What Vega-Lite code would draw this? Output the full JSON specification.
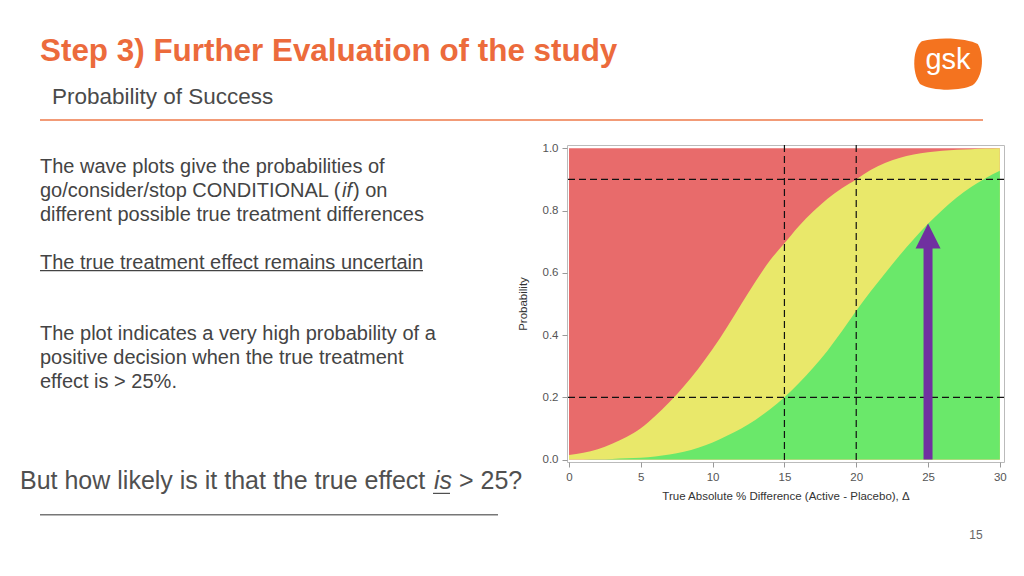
{
  "$schema": "https://vega.github.io/schema/vega-lite/v6.json",
  "background": "white",
  "padding": {"left": 20, "top": 20, "right": 20, "bottom": 20},
  "config": {"font": "Liberation Sans", "view": {"stroke": null}},
  "datasets": {
    "poc": [
      {"delta": 0, "go": 0.000, "goConsider": 0.015},
      {"delta": 1, "go": 0.0005, "goConsider": 0.022},
      {"delta": 2, "go": 0.001, "goConsider": 0.033},
      {"delta": 3, "go": 0.002, "goConsider": 0.051},
      {"delta": 4, "go": 0.004, "goConsider": 0.073},
      {"delta": 5, "go": 0.006, "goConsider": 0.101},
      {"delta": 6, "go": 0.010, "goConsider": 0.140},
      {"delta": 7, "go": 0.016, "goConsider": 0.185},
      {"delta": 8, "go": 0.025, "goConsider": 0.236},
      {"delta": 9, "go": 0.038, "goConsider": 0.292},
      {"delta": 10, "go": 0.055, "goConsider": 0.355},
      {"delta": 11, "go": 0.077, "goConsider": 0.425},
      {"delta": 12, "go": 0.100, "goConsider": 0.500},
      {"delta": 13, "go": 0.128, "goConsider": 0.573},
      {"delta": 14, "go": 0.162, "goConsider": 0.640},
      {"delta": 15, "go": 0.200, "goConsider": 0.695},
      {"delta": 16, "go": 0.245, "goConsider": 0.750},
      {"delta": 17, "go": 0.295, "goConsider": 0.797},
      {"delta": 18, "go": 0.350, "goConsider": 0.838},
      {"delta": 19, "go": 0.412, "goConsider": 0.872},
      {"delta": 20, "go": 0.478, "goConsider": 0.900},
      {"delta": 21, "go": 0.540, "goConsider": 0.930},
      {"delta": 22, "go": 0.598, "goConsider": 0.953},
      {"delta": 23, "go": 0.655, "goConsider": 0.969},
      {"delta": 24, "go": 0.708, "goConsider": 0.980},
      {"delta": 25, "go": 0.758, "goConsider": 0.987},
      {"delta": 26, "go": 0.802, "goConsider": 0.992},
      {"delta": 27, "go": 0.842, "goConsider": 0.995},
      {"delta": 28, "go": 0.876, "goConsider": 0.997},
      {"delta": 29, "go": 0.904, "goConsider": 0.999},
      {"delta": 30, "go": 0.928, "goConsider": 1.000}
    ],
    "vref": [{"delta": 15}, {"delta": 20}],
    "href": [{"prob": 0.2}, {"prob": 0.9}],
    "arrow": [{"delta": 25, "base": 0, "top": 0.69, "head": 0.718}],
    "slide": [
      {"line": 1, "part": "body", "text": "The wave plots give the probabilities of"},
      {"line": 2, "part": "body", "text": "go/consider/stop CONDITIONAL ("},
      {"line": 2, "part": "italic", "text": "if"},
      {"line": 2, "part": "tail", "text": ") on"},
      {"line": 3, "part": "body", "text": "different possible true treatment differences"},
      {"line": 5, "part": "body", "text": "The true treatment effect remains uncertain"},
      {"line": 8, "part": "body", "text": "The plot indicates a very high probability of a"},
      {"line": 9, "part": "body", "text": "positive decision when the true treatment"},
      {"line": 10, "part": "body", "text": "effect is > 25%."},
      {"line": 14, "part": "question", "text": "But how likely is it that the true effect"},
      {"line": 14, "part": "qitalic", "text": "is"},
      {"line": 14, "part": "qtail", "text": "> 25?"},
      {"line": 5, "part": "u1", "text": ""},
      {"line": 14, "part": "u2", "text": ""},
      {"line": 15, "part": "u3", "text": ""}
    ]
  },
  "bounds": "flush",
  "spacing": 25,
  "vconcat": [
    {
      "width": 984,
      "height": 100,
      "layer": [
        {
          "data": {"values": [{"heading": "Step 3) Further Evaluation of the study"}]},
          "mark": {"type": "text", "fontSize": 31.4, "fontWeight": "bold", "color": "#EC6B3C", "align": "left", "baseline": "alphabetic"},
          "encoding": {"text": {"field": "heading"}, "x": {"value": 20}, "y": {"value": 41}}
        },
        {
          "data": {"values": [{"heading": "Probability of Success"}]},
          "mark": {"type": "text", "fontSize": 22.5, "color": "#4a4a4a", "align": "left", "baseline": "alphabetic"},
          "encoding": {"text": {"field": "heading"}, "x": {"value": 32}, "y": {"value": 84}}
        },
        {
          "data": {"values": [{"heading": ""}]},
          "mark": {"type": "rule", "color": "#EE7A4A", "strokeWidth": 1.5},
          "encoding": {"x": {"value": 20}, "x2": {"value": 963}, "y": {"value": 100}}
        },
        {
          "data": {"values": [{"heading": "gsk"}]},
          "mark": {"type": "point", "shape": "M-0.75,-0.65 C-0.2,-0.8 0.6,-0.72 0.85,-0.57 C1.05,-0.23 1.0,0.38 0.7,0.61 C0.3,0.8 -0.5,0.76 -0.8,0.57 C-1.05,0.23 -1.0,-0.46 -0.75,-0.65 Z", "size": 4900, "filled": true, "opacity": 1, "color": "#F4731F", "strokeWidth": 0},
          "encoding": {"x": {"value": 928}, "y": {"value": 44}}
        },
        {
          "data": {"values": [{"heading": "gsk"}]},
          "mark": {"type": "text", "fontSize": 29, "color": "white", "align": "center", "baseline": "middle"},
          "encoding": {"text": {"field": "heading"}, "x": {"value": 928}, "y": {"value": 40}}
        }
      ]
    },
    {
      "bounds": "flush",
      "spacing": 60,
      "hconcat": [
        {
          "width": 487,
          "height": 381,
          "data": {"name": "slide"},
          "encoding": {
            "y": {"field": "line", "type": "quantitative", "scale": {"domain": [0, 16], "reverse": true, "nice": false, "zero": false}, "axis": null}
          },
          "layer": [
            {
              "transform": [{"filter": "datum.part === 'body'"}],
              "mark": {"type": "text", "fontSize": 20, "color": "#444444", "align": "left", "baseline": "alphabetic", "dy": 4.5},
              "encoding": {"text": {"field": "text"}, "x": {"value": 20}}
            },
            {
              "transform": [{"filter": "datum.part === 'italic'"}],
              "mark": {"type": "text", "fontSize": 20, "fontStyle": "italic", "color": "#444444", "align": "left", "baseline": "alphabetic", "dy": 4.5},
              "encoding": {"text": {"field": "text"}, "x": {"value": 322}}
            },
            {
              "transform": [{"filter": "datum.part === 'tail'"}],
              "mark": {"type": "text", "fontSize": 20, "color": "#444444", "align": "left", "baseline": "alphabetic", "dy": 4.5},
              "encoding": {"text": {"field": "text"}, "x": {"value": 333}}
            },
            {
              "transform": [{"filter": "datum.part === 'question'"}],
              "mark": {"type": "text", "fontSize": 25, "color": "#505050", "align": "left", "baseline": "alphabetic", "dy": 11},
              "encoding": {"text": {"field": "text"}, "x": {"value": 0}}
            },
            {
              "transform": [{"filter": "datum.part === 'qitalic'"}],
              "mark": {"type": "text", "fontSize": 25, "fontStyle": "italic", "color": "#505050", "align": "left", "baseline": "alphabetic", "dy": 11},
              "encoding": {"text": {"field": "text"}, "x": {"value": 414}}
            },
            {
              "transform": [{"filter": "datum.part === 'qtail'"}],
              "mark": {"type": "text", "fontSize": 25, "color": "#505050", "align": "left", "baseline": "alphabetic", "dy": 11},
              "encoding": {"text": {"field": "text"}, "x": {"value": 439}}
            },
            {
              "transform": [{"filter": "datum.part === 'u1'"}],
              "mark": {"type": "rule", "color": "#444444", "strokeWidth": 1.2, "yOffset": 6.5},
              "encoding": {"x": {"value": 20}, "x2": {"value": 403}}
            },
            {
              "transform": [{"filter": "datum.part === 'u2'"}],
              "mark": {"type": "rule", "color": "#505050", "strokeWidth": 1.2, "yOffset": 15},
              "encoding": {"x": {"value": 413}, "x2": {"value": 430}}
            },
            {
              "transform": [{"filter": "datum.part === 'u3'"}],
              "mark": {"type": "rule", "color": "#777777", "strokeWidth": 1.5, "yOffset": 12.5},
              "encoding": {"x": {"value": 20}, "x2": {"value": 478}}
            }
          ]
        },
        {
          "width": 437,
          "height": 317,
          "view": {"stroke": "#bbbbbb", "strokeWidth": 1},
          "layer": [
            {
              "data": {"name": "poc"},
              "mark": {"type": "area", "color": "#E86B6B", "interpolate": "monotone", "opacity": 1},
              "encoding": {
                "x": {"field": "delta", "type": "quantitative",
                  "scale": {"domain": [-0.14, 30.29], "nice": false, "zero": false},
                  "axis": {"values": [0, 5, 10, 15, 20, 25, 30], "title": "True Absolute % Difference (Active - Placebo), Δ", "grid": false, "domain": false, "tickSize": 5, "tickColor": "#999999", "labelFontSize": 11.5, "labelColor": "#555555", "labelPadding": 4, "titleFontSize": 11.5, "titleFontWeight": "normal", "titleColor": "#333333", "titlePadding": 8}},
                "y": {"datum": 1, "type": "quantitative",
                  "scale": {"domain": [-0.0077, 1.0106], "nice": false, "zero": false},
                  "axis": {"values": [0, 0.2, 0.4, 0.6, 0.8, 1], "format": ".1f", "title": "Probability", "grid": false, "domain": false, "tickSize": 5, "tickColor": "#999999", "labelFontSize": 11.5, "labelColor": "#555555", "labelPadding": 4, "titleFontSize": 11.5, "titleFontWeight": "normal", "titleColor": "#333333", "titlePadding": 14}},
                "y2": {"datum": 0}
              }
            },
            {
              "data": {"name": "poc"},
              "mark": {"type": "area", "color": "#E9E86A", "interpolate": "monotone", "opacity": 1},
              "encoding": {
                "x": {"field": "delta", "type": "quantitative"},
                "y": {"field": "goConsider", "type": "quantitative"},
                "y2": {"datum": 0}
              }
            },
            {
              "data": {"name": "poc"},
              "mark": {"type": "area", "color": "#6AE86A", "interpolate": "monotone", "opacity": 1},
              "encoding": {
                "x": {"field": "delta", "type": "quantitative"},
                "y": {"field": "go", "type": "quantitative"},
                "y2": {"datum": 0}
              }
            },
            {
              "data": {"name": "vref"},
              "mark": {"type": "rule", "color": "#111111", "strokeWidth": 1.2, "strokeDash": [7, 4]},
              "encoding": {"x": {"field": "delta", "type": "quantitative"}}
            },
            {
              "data": {"name": "href"},
              "mark": {"type": "rule", "color": "#111111", "strokeWidth": 1.2, "strokeDash": [7, 4]},
              "encoding": {"y": {"field": "prob", "type": "quantitative"}}
            },
            {
              "data": {"name": "arrow"},
              "mark": {"type": "rule", "color": "#7030A0", "strokeWidth": 9},
              "encoding": {
                "x": {"field": "delta", "type": "quantitative"},
                "y": {"field": "base", "type": "quantitative"},
                "y2": {"field": "top"}
              }
            },
            {
              "data": {"name": "arrow"},
              "mark": {"type": "point", "shape": "M-1,1L1,1L0,-1Z", "size": 625, "filled": true, "opacity": 1, "color": "#7030A0", "strokeWidth": 0},
              "encoding": {
                "x": {"field": "delta", "type": "quantitative"},
                "y": {"field": "head", "type": "quantitative"}
              }
            },
            {
              "data": {"values": [{"page": "15"}]},
              "mark": {"type": "text", "fontSize": 12, "color": "#666666", "align": "center", "baseline": "middle"},
              "encoding": {"text": {"field": "page"}, "x": {"value": 409}, "y": {"value": 390}}
            }
          ]
        }
      ]
    }
  ]
}
